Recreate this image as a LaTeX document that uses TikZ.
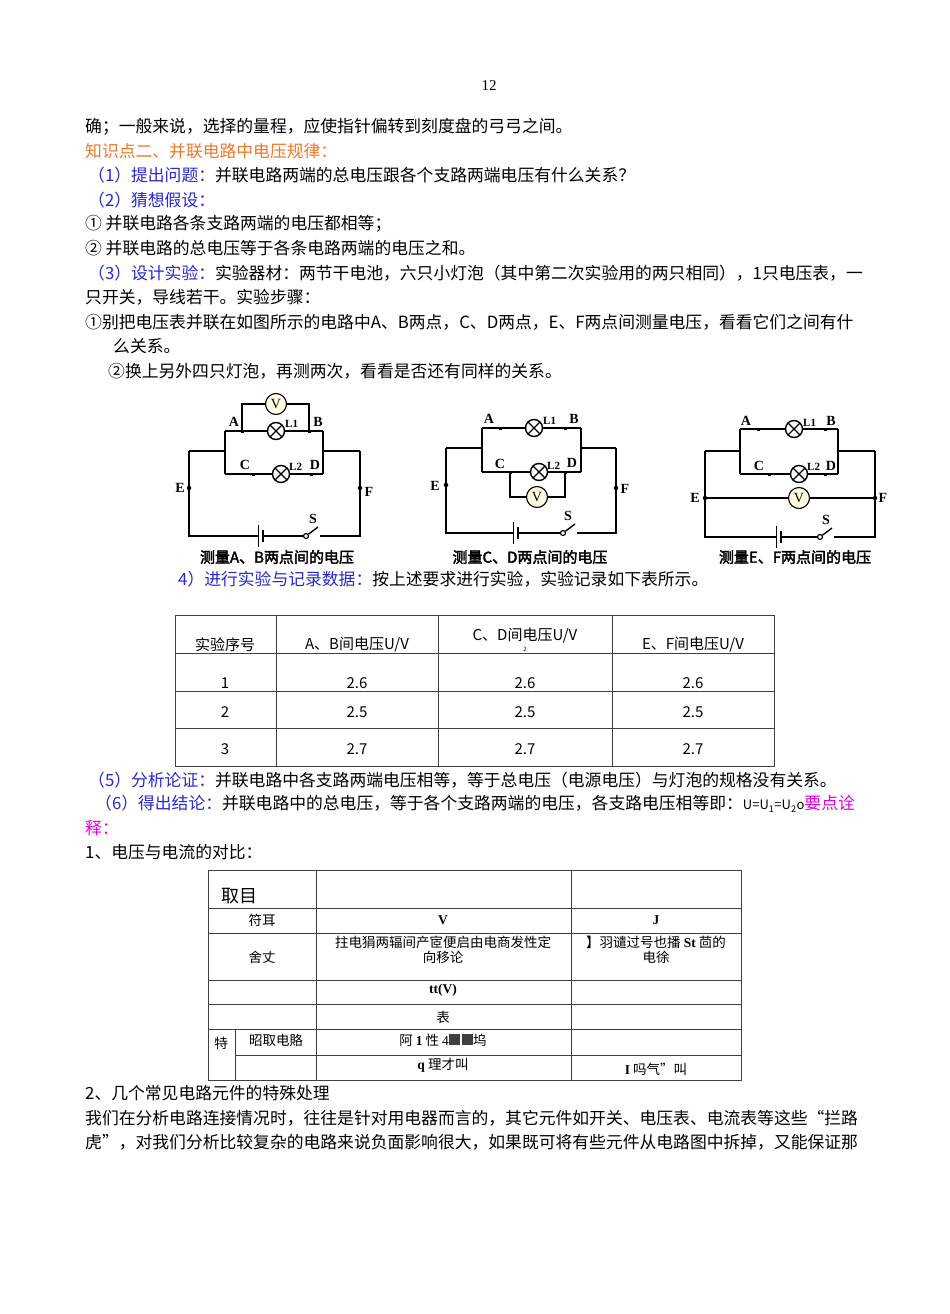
\documentclass[tikz,border=0pt]{standalone}
\usepackage{fontspec}
\setmainfont{Noto Sans CJK SC}
\newfontfamily\capfont[FakeBold=2.5]{Noto Sans CJK SC}
\newfontfamily\serifnum{Liberation Serif}
\definecolor{orangeT}{RGB}{240,120,40}
\definecolor{blueT}{RGB}{40,40,210}
\definecolor{magT}{RGB}{225,0,225}
\definecolor{meterY}{RGB}{255,252,225}
\begin{document}
\begin{tikzpicture}[x=1pt,y=-1pt,
  txt/.style={anchor=west,inner sep=0pt,font=\fontsize{16.8}{18}\selectfont},
  wire/.style={line width=1.6pt},
  lamp/.style={circle,draw,line width=1.4pt,minimum size=17pt,inner sep=0pt,fill=white,
    path picture={\draw[line width=1.3pt] (path picture bounding box.north west)--(path picture bounding box.south east) (path picture bounding box.north east)--(path picture bounding box.south west);}},
  meter/.style={circle,draw,line width=1.1pt,minimum size=21pt,inner sep=0pt,fill=meterY,font=\serifnum\fontsize{14}{14}\selectfont},
  lbl/.style={font=\serifnum\bfseries\fontsize{14}{14}\selectfont,inner sep=0pt},
  lsm/.style={font=\serifnum\bfseries\fontsize{11}{11}\selectfont,inner sep=0pt,anchor=west},
  dotn/.style={circle,fill,inner sep=0pt,minimum size=4.5pt},
  jn/.style={rectangle,fill,inner sep=0pt,minimum size=3pt},
  captxt/.style={font=\capfont\fontsize{15}{15}\selectfont,inner sep=0pt},
  cell/.style={inner sep=0pt,font=\fontsize{15}{16}\selectfont},
  cellb/.style={inner sep=0pt,font=\fontsize{13.5}{15}\selectfont,align=center},
  grid/.style={line width=0.6pt,draw=black!75}]
\useasboundingbox (0,0) rectangle (950,1314);
\fill[white] (0,0) rectangle (950,1314);

\node[inner sep=0pt,font=\serifnum\fontsize{15}{15}\selectfont] (pg) at (489,86) {12};
\node[txt] (l1) at (85,127) {确；一般来说，选择的量程，应使指针偏转到刻度盘的弓弓之间。};
\node[txt,text=orangeT] (l2) at (85,151) {知识点二、并联电路中电压规律：};
\node[txt] (l3) at (88,175) {\textcolor{blueT}{（1）提出问题：}并联电路两端的总电压跟各个支路两端电压有什么关系？};
\node[txt,text=blueT] (l4) at (88,200) {（2）猜想假设：};
\node[txt] (l5) at (85,224) {①\ 并联电路各条支路两端的电压都相等；};
\node[txt] (l6) at (85,248) {②\ 并联电路的总电压等于各条电路两端的电压之和。};
\node[txt] (l7) at (88,273) {\textcolor{blueT}{（3）设计实验：}实验器材：两节干电池，六只小灯泡（其中第二次实验用的两只相同），1只电压表，一};
\node[txt] (l8) at (85,297) {只开关，导线若干。实验步骤：};
\node[txt] (l9) at (85,322) {①别把电压表并联在如图所示的电路中A、B两点，C、D两点，E、F两点间测量电压，看看它们之间有什};
\node[txt] (l10) at (113,346) {么关系。};
\node[txt] (l11) at (108,371) {②换上另外四只灯泡，再测两次，看看是否还有同样的关系。};

% ---------- circuit 1 ----------
\node[lamp] (c1l1) at (276,431) {};
\node[lamp] (c1l2) at (281,474) {};
\node[meter] (c1v) at (276,404) {V};
\coordinate (c1a) at (242,431); \coordinate (c1b) at (309,431);
\coordinate (c1c) at (253,474); \coordinate (c1d) at (311,474);
\draw[wire] (189,451) -- (225,451) (323,451) -- (360,451);
\draw[wire] (225,431) -- (225,474) (323,431) -- (323,474);
\draw[wire] (225,431) -- (c1l1) -- (323,431);
\draw[wire] (225,474) -- (c1l2) -- (323,474);
\draw[line width=1.2pt] (c1a) -- (242,404) -- (c1v) -- (309,404) -- (c1b);
\draw[wire] (189,451) -- (189,536) -- (258,536);
\draw[line width=1pt] (258,525) -- (258,547);
\draw[line width=2.4pt] (263,530) -- (263,542);
\draw[wire] (263,536) -- (304,536);
\node[circle,draw,line width=1.2pt,inner sep=0pt,minimum size=5pt,fill=white] (c1s) at (306,536) {};
\draw[line width=1.4pt] (c1s) -- (318,527);
\draw[wire] (320,536) -- (360,536) -- (360,451);
\node[dotn] (c1E) at (189,488) {}; \node[dotn] (c1F) at (360,488) {};
\foreach \p in {c1a,c1b,c1c,c1d} \node[jn] at (\p) {};
\node[lbl] (c1A) at (234,422) {A}; \node[lbl] (c1B) at (318,422) {B};
\node[lbl] (c1C) at (245,465) {C}; \node[lbl] (c1D) at (315,465) {D};
\node[lsm] (c1L1) at (285,424) {L1}; \node[lsm] (c1L2) at (289,467) {L2};
\node[lbl] (c1El) at (180,488) {E}; \node[lbl] (c1Fl) at (369,492) {F};
\node[lbl] (c1Sl) at (313,519) {S};
\node[captxt] (cap1) at (277,557) {测量A、B两点间的电压};

% ---------- circuit 2 ----------
\node[lamp] (c2l1) at (534,428) {};
\node[lamp] (c2l2) at (539,472) {};
\node[meter] (c2v) at (537,497) {V};
\coordinate (c2a) at (500,428); \coordinate (c2b) at (565,428);
\coordinate (c2c) at (510,472); \coordinate (c2d) at (565,472);
\draw[wire] (446,448) -- (482,448) (581,448) -- (616,448);
\draw[wire] (482,428) -- (482,472) (581,428) -- (581,472);
\draw[wire] (482,428) -- (c2l1) -- (581,428);
\draw[wire] (482,472) -- (c2l2) -- (581,472);
\draw[line width=1.2pt] (c2c) -- (510,497) -- (c2v) -- (565,497) -- (c2d);
\draw[wire] (446,448) -- (446,533) -- (513,533);
\draw[line width=1pt] (513,522) -- (513,544);
\draw[line width=2.4pt] (518,527) -- (518,539);
\draw[wire] (518,533) -- (561,533);
\node[circle,draw,line width=1.2pt,inner sep=0pt,minimum size=5pt,fill=white] (c2s) at (563,533) {};
\draw[line width=1.4pt] (c2s) -- (575,524);
\draw[wire] (577,533) -- (616,533) -- (616,448);
\node[dotn] (c2E) at (446,485) {}; \node[dotn] (c2F) at (616,488) {};
\foreach \p in {c2a,c2b,c2c,c2d} \node[jn] at (\p) {};
\node[lbl] (c2A) at (489,419) {A}; \node[lbl] (c2B) at (574,419) {B};
\node[lbl] (c2C) at (500,464) {C}; \node[lbl] (c2D) at (572,463) {D};
\node[lsm] (c2L1) at (543,421) {L1}; \node[lsm] (c2L2) at (547,466) {L2};
\node[lbl] (c2El) at (435,486) {E}; \node[lbl] (c2Fl) at (625,489) {F};
\node[lbl] (c2Sl) at (568,516) {S};
\node[captxt] (cap2) at (530,557) {测量C、D两点间的电压};

% ---------- circuit 3 ----------
\node[lamp] (c3l1) at (794,429) {};
\node[lamp] (c3l2) at (799,474) {};
\node[meter] (c3v) at (799,498) {V};
\coordinate (c3a) at (758,429); \coordinate (c3b) at (825,429);
\coordinate (c3c) at (769,474); \coordinate (c3d) at (825,474);
\draw[wire] (705,451) -- (740,451) (838,451) -- (875,451);
\draw[wire] (740,429) -- (740,474) (838,429) -- (838,474);
\draw[wire] (740,429) -- (c3l1) -- (838,429);
\draw[wire] (740,474) -- (c3l2) -- (838,474);
\draw[line width=1.2pt] (705,498) -- (c3v) -- (875,498);
\draw[wire] (705,451) -- (705,537) -- (776,537);
\draw[line width=1pt] (776,526) -- (776,548);
\draw[line width=2.4pt] (781,531) -- (781,543);
\draw[wire] (781,537) -- (818,537);
\node[circle,draw,line width=1.2pt,inner sep=0pt,minimum size=5pt,fill=white] (c3s) at (820,537) {};
\draw[line width=1.4pt] (c3s) -- (832,528);
\draw[wire] (834,537) -- (875,537) -- (875,451);
\node[dotn] (c3E) at (705,498) {}; \node[dotn] (c3F) at (875,498) {};
\foreach \p in {c3a,c3b,c3c,c3d} \node[jn] at (\p) {};
\node[lbl] (c3A) at (746,421) {A}; \node[lbl] (c3B) at (831,421) {B};
\node[lbl] (c3C) at (759,466) {C}; \node[lbl] (c3D) at (831,466) {D};
\node[lsm] (c3L1) at (803,423) {L1}; \node[lsm] (c3L2) at (807,467) {L2};
\node[lbl] (c3El) at (695,498) {E}; \node[lbl] (c3Fl) at (883,498) {F};
\node[lbl] (c3Sl) at (826,520) {S};
\node[captxt] (cap3) at (795,557) {测量E、F两点间的电压};

\node[txt] (l12) at (178,579) {\textcolor{blueT}{4）进行实验与记录数据：}按上述要求进行实验，实验记录如下表所示。};

% ---------- table 1 ----------
\draw[grid] (175,615) rectangle (774,766);
\foreach \yy in {653,691,728} \draw[grid] (175,\yy) -- (774,\yy);
\foreach \xx in {276,438,612} \draw[grid] (\xx,615) -- (\xx,766);
\node[cell] (h1) at (225,645) {实验序号};
\node[cell] (h2) at (357,645) {A、B间电压U/V};
\node[cell] (h3) at (525,636) {C、D间电压U/V};
\node[inner sep=0pt,font=\fontsize{6}{6}\selectfont] (h3s) at (525,649) {2};
\node[cell] (h4) at (693,645) {E、F间电压U/V};
\foreach \r/\yy/\v in {1/683/2.6,2/712/2.5,3/749/2.7}{
  \node[cell] at (225,\yy) {\r};
  \node[cell] at (357,\yy) {\v};
  \node[cell] at (525,\yy) {\v};
  \node[cell] at (693,\yy) {\v};
}

\node[txt] (l13) at (88,780) {\textcolor{blueT}{（5）分析论证：}并联电路中各支路两端电压相等，等于总电压（电源电压）与灯泡的规格没有关系。};
\node[txt] (l14) at (95,804) {\textcolor{blueT}{（6）得出结论：}并联电路中的总电压，等于各个支路两端的电压，各支路电压相等即：{\fontsize{13}{13}\selectfont U=U\textsubscript{1}=U\textsubscript{2}o}\textcolor{magT}{要点诠}};
\node[txt,text=magT] (l15) at (85,828) {释：};
\node[txt] (l16) at (85,852) {1、电压与电流的对比：};

% ---------- table 2 ----------
\draw[grid] (208,870) rectangle (741,1080);
\foreach \yy in {908,933,980,1004,1029} \draw[grid] (208,\yy) -- (741,\yy);
\draw[grid] (235,1055) -- (741,1055);
\draw[grid] (316,870) -- (316,1080);
\draw[grid] (571,870) -- (571,1080);
\draw[grid] (235,1029) -- (235,1080);
\node[inner sep=0pt,font=\fontsize{18}{18}\selectfont,anchor=west] (t00) at (221,896) {取目};
\node[cellb] (t10) at (262,920) {符耳};
\node[cellb,font=\serifnum\bfseries\fontsize{13.5}{15}\selectfont] (t11) at (443,920) {V};
\node[cellb,font=\serifnum\bfseries\fontsize{13.5}{15}\selectfont] (t12) at (656,920) {J};
\node[cellb] (t20) at (262,957) {舍丈};
\node[cellb] (t21) at (443,950) {拄电狷两辐间产宧便启由电商发性定\\向移论};
\node[cellb] (t22) at (656,950) {】羽谴过号也播 {\serifnum\bfseries St} 茴的\\电徐};
\node[cellb,font=\serifnum\bfseries\fontsize{13.5}{15}\selectfont] (t31) at (443,990) {tt(V)};
\node[cellb] (t41) at (443,1017) {表};
\node[cellb] (t50) at (221,1043) {特};
\node[cellb] (t51) at (276,1040) {昭取电賂};
\node[cellb] (t52) at (443,1040) {阿 {\serifnum\bfseries 1} 性 {\serifnum 4}\textcolor{black!75}{\rule{11pt}{11pt}\,\rule{11pt}{11pt}}坞};
\node[cellb] (t61) at (443,1065) {{\serifnum\bfseries q} 理才叫};
\node[cellb] (t62) at (656,1069) {{\serifnum\bfseries I} 吗气”叫};

\node[txt] (l17) at (85,1093) {2、几个常见电路元件的特殊处理};
\node[txt] (l18) at (85,1118) {我们在分析电路连接情况时，往往是针对用电器而言的，其它元件如开关、电压表、电流表等这些“拦路};
\node[txt] (l19) at (85,1142) {虎”，对我们分析比较复杂的电路来说负面影响很大，如果既可将有些元件从电路图中拆掉，又能保证那};
\end{tikzpicture}
\end{document}
